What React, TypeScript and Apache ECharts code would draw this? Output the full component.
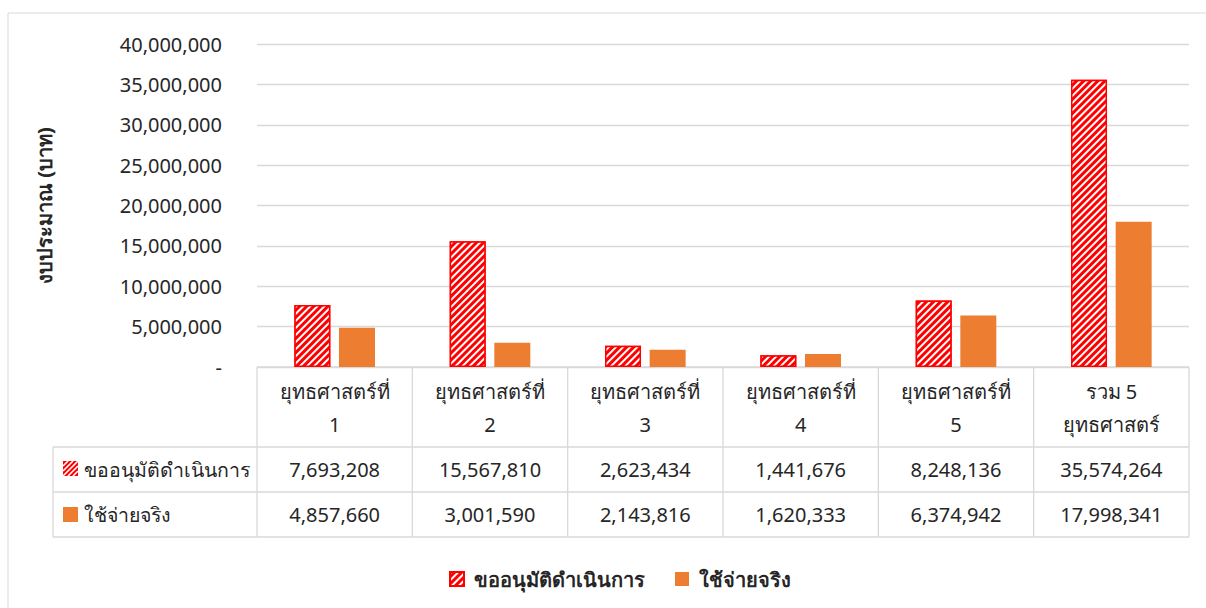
import React, { useEffect, useRef } from "react";
import * as echarts from "echarts";

const categories = ["ยุทธศาสตร์ที่\n1", "ยุทธศาสตร์ที่\n2", "ยุทธศาสตร์ที่\n3", "ยุทธศาสตร์ที่\n4", "ยุทธศาสตร์ที่\n5", "รวม 5\nยุทธศาสตร์"];
const seriesNames = ["ขออนุมัติดำเนินการ", "ใช้จ่ายจริง"];
const requested = [7693208, 15567810, 2623434, 1441676, 8248136, 35574264];
const spent = [4857660, 3001590, 2143816, 1620333, 6374942, 17998341];
const yAxisName = "งบประมาณ (บาท)";

const RED = "#FF0000";
const ORANGE = "#ED7D31";
const GRIDC = "#D9D9D9";
const TXT = "#262626";
const FONT = "'Noto Sans', Tahoma, sans-serif";
const FS = 20;

const W = 1206;
const H = 608;
const gridLeft = 257;
const gridRight = 1189;
const gridTop = 44;
const gridBottom = 367;
const headerBottom = 447;
const row1Bottom = 492;
const row2Bottom = 537;
const tableLeft = 53;

const fmt = (v: number) => v.toLocaleString("en-US");

function hatchLines(x0: number, y0: number, s: number, color: string) {
  const out: any[] = [];
  const n = 6;
  for (let k = 1; k < n; k++) {
    const c = (2 * s * k) / n;
    const u1 = Math.max(0, c - s);
    const u2 = Math.min(s, c);
    out.push({
      type: "line",
      shape: { x1: x0 + u1, y1: y0 + (c - u1), x2: x0 + u2, y2: y0 + (c - u2) },
      style: { stroke: color, lineWidth: 1.6 },
      silent: true,
    });
  }
  return out;
}

export default function App() {
  const ref = useRef<HTMLDivElement>(null);
  useEffect(() => {
    if (!ref.current) return;
    const chart = echarts.init(ref.current, undefined, { renderer: "svg" });
    const n = categories.length;
    const colW = (gridRight - gridLeft) / n;
    const graphic: any[] = [];
    graphic.push({
      type: "rect",
      shape: { x: 8, y: 13, width: 1220, height: 620 },
      style: { fill: "none", stroke: GRIDC, lineWidth: 1 },
      silent: true,
    });
    const line = (x1: number, y1: number, x2: number, y2: number) =>
      graphic.push({
        type: "line",
        shape: { x1, y1, x2, y2 },
        style: { stroke: GRIDC, lineWidth: 1.3 },
        silent: true,
      });
    line(gridLeft, gridBottom, gridRight, gridBottom);
    [headerBottom, row1Bottom, row2Bottom].forEach((y) => line(tableLeft, y, gridRight, y));
    for (let i = 0; i <= n; i++) {
      const x = gridLeft + colW * i;
      line(x, gridBottom, x, row2Bottom);
    }
    line(tableLeft, headerBottom, tableLeft, row2Bottom);
    const rows = [requested, spent];
    const rowYs = [(headerBottom + row1Bottom) / 2, (row1Bottom + row2Bottom) / 2];
    graphic.push({
      type: "rect",
      shape: { x: 63, y: 461, width: 15, height: 15 },
      style: { fill: RED },
      silent: true,
    });
    graphic.push(...hatchLines(63, 461, 15, "#fff"));
    graphic.push({
      type: "rect",
      shape: { x: 63, y: 507, width: 15, height: 15 },
      style: { fill: ORANGE },
      silent: true,
    });
    seriesNames.forEach((name, r) => {
      graphic.push({
        type: "text",
        x: 84,
        y: rowYs[r],
        style: { text: name, fill: TXT, font: `19.5px ${FONT}`, textAlign: "left", textVerticalAlign: "middle" },
        silent: true,
      });
      rows[r].forEach((v, i) => {
        graphic.push({
          type: "text",
          x: gridLeft + colW * (i + 0.5),
          y: rowYs[r],
          style: { text: fmt(v), fill: TXT, font: `${FS}px ${FONT}`, textAlign: "center", textVerticalAlign: "middle" },
          silent: true,
        });
      });
    });

    chart.setOption({
      animation: false,
      backgroundColor: "#fff",
      textStyle: { fontFamily: FONT },
      grid: { left: gridLeft, right: W - gridRight, top: gridTop, bottom: H - gridBottom, containLabel: false },
      legend: {
        bottom: 14,
        left: 444,
        itemWidth: 14,
        itemHeight: 14,
        itemGap: 30,
        icon: "rect",
        textStyle: { fontSize: FS, fontWeight: "bold", color: TXT, fontFamily: FONT, padding: [0, 0, 0, 5] },
        data: seriesNames,
      },
      xAxis: {
        type: "category",
        data: categories,
        axisLine: { show: false },
        axisTick: { show: false },
        axisLabel: { color: TXT, fontSize: FS, lineHeight: 33, margin: 8, fontFamily: FONT },
      },
      yAxis: {
        type: "value",
        min: 0,
        max: 40000000,
        interval: 5000000,
        name: yAxisName,
        nameLocation: "middle",
        nameGap: 203,
        nameRotate: 90,
        nameTextStyle: { fontSize: FS, fontWeight: "bold", color: TXT, fontFamily: FONT },
        axisLine: { show: false },
        axisTick: { show: false },
        axisLabel: {
          color: TXT,
          fontSize: FS,
          margin: 35,
          fontFamily: FONT,
          formatter: (v: number) => (v === 0 ? "-" : fmt(v)),
        },
        splitLine: { lineStyle: { color: GRIDC, width: 1.3 } },
      },
      series: [
        {
          name: seriesNames[0],
          type: "bar",
          data: requested,
          barWidth: 36,
          barGap: "24%",
          itemStyle: {
            color: RED,
            borderColor: RED,
            borderWidth: 1.5,
            decal: {
              symbol: "rect",
              dashArrayX: [1, 0],
              dashArrayY: [2, 2.5],
              rotation: -Math.PI / 4,
              color: "#ffffff",
            },
          },
        },
        {
          name: seriesNames[1],
          type: "bar",
          data: spent,
          barWidth: 36,
          itemStyle: { color: ORANGE },
        },
      ],
      graphic,
    });
    return () => chart.dispose();
  }, []);
  return <div ref={ref} style={{ position: "fixed", left: 0, top: 0, width: W, height: H }} />;
}
